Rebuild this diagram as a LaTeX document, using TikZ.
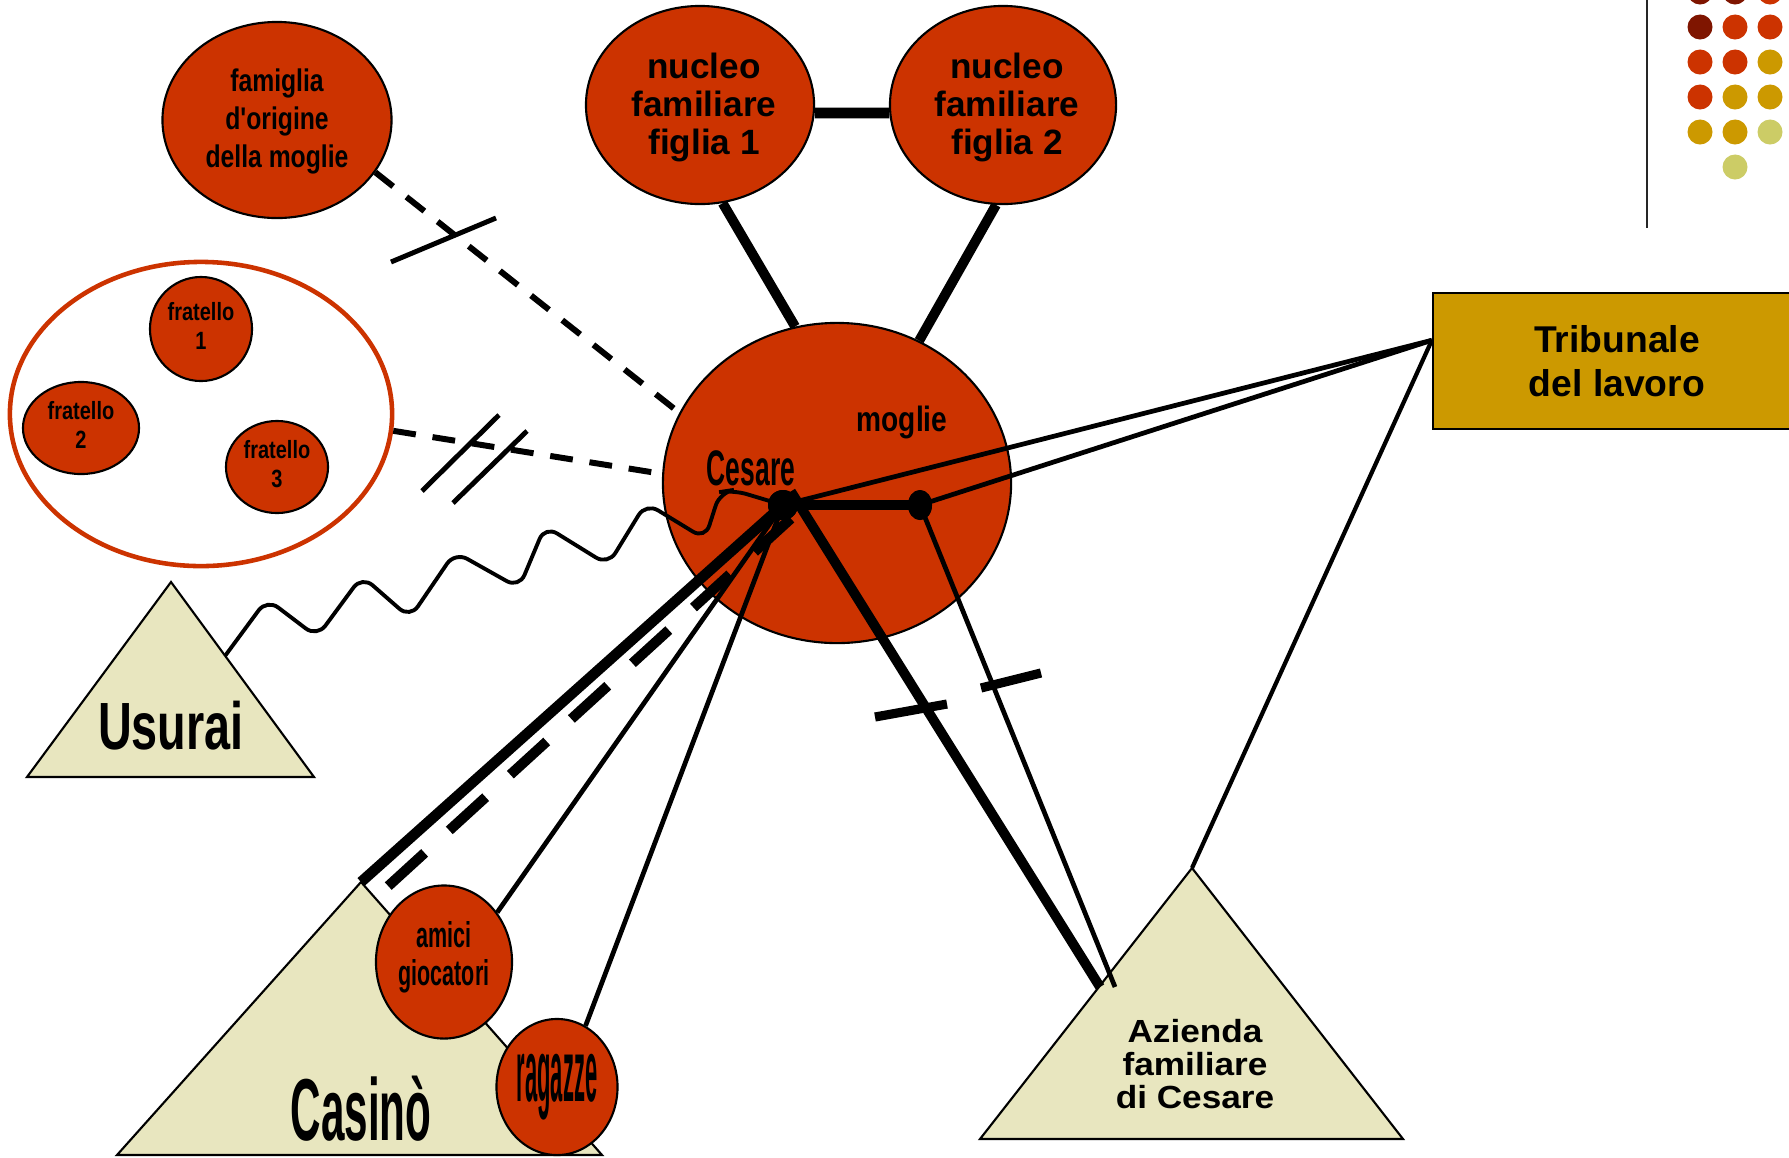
\documentclass[tikz,border=0pt]{standalone}
\usepackage{fontspec}
\setmainfont{Liberation Sans}[Ligatures=TeXOff]
\usepackage{graphicx}
\usetikzlibrary{shapes.geometric,calc}
\definecolor{rust}{HTML}{CC3300}
\definecolor{gold}{HTML}{CC9900}
\definecolor{beige}{HTML}{E8E6BF}
\definecolor{darkrust}{HTML}{7F1500}
\definecolor{pale}{HTML}{CCCC66}
\newcommand{\sqz}[2]{\scalebox{#1}[1]{#2}}
\newcommand{\stk}[1]{\begin{tabular}{@{}c@{}}#1\end{tabular}}
\newcommand{\fsz}[2]{\fontsize{#1}{#2}\selectfont\bfseries}
\begin{document}
\begin{tikzpicture}[x=0.01cm,y=-0.01cm,
 bub/.style={ellipse,draw=black,line width=0.6pt,fill=rust,inner sep=0pt},
 tri/.style={draw=black,line width=0.6pt,fill=beige},
 thinln/.style={line width=1.35pt},
 thickln/.style={line width=3pt},
 famdash/.style={line width=1.7pt,dash pattern=on 6.5pt off 4.8pt},
 bigdash/.style={line width=2.9pt,dash pattern=on 14pt off 9.5pt},
 barmark/.style={line width=1.4pt},
 bigbar/.style={line width=2.6pt},
 txt/.style={inner sep=0pt,align=center}]
\useasboundingbox (0,0) rectangle (1789,1157);
\clip (0,0) rectangle (1789,1157);

% decoration top right
\draw[line width=0.6pt,black!85] (1647,0) -- (1647,228);
\foreach \px/\py/\c in {1700/-8/darkrust,1735/-8/darkrust,1770/-8/rust,
  1700/27/darkrust,1735/27/rust,1770/27/rust,
  1700/62/rust,1735/62/rust,1770/62/gold,
  1700/97/rust,1735/97/gold,1770/97/gold,
  1700/132/gold,1735/132/gold,1770/132/pale,
  1735/167/pale}
  \fill[\c] (\px,\py) circle[radius=0.125cm];

% triangles
\coordinate (usA) at (171,582);
\coordinate (casA) at (361,882);
\coordinate (azA) at (1192,868);
\draw[tri] (usA) -- (27,777) -- (314,777) -- cycle;
\draw[tri] (casA) -- (117,1155) -- (602,1155) -- cycle;
\draw[tri] (azA) -- (980,1139) -- (1403,1139) -- cycle;
\node[txt] (usurai) at (171,726) {\fsz{19}{19}\sqz{0.70}{Usurai}};
\node[txt,anchor=base] (casino) at (361,1140) {\fsz{25}{25}\sqz{0.48}{Casinò}};
\node[txt] (azienda) at (1195,1069) {\fsz{9.1}{9.3}\sqz{1.1}{\stk{Azienda\\familiare\\di Cesare}}};

% tribunale
\node[draw=black,line width=0.6pt,fill=gold,minimum width=3.67cm,minimum height=1.36cm,inner sep=0pt] (trib) at (1616.5,361) {};
\node[txt] (tribtxt) at (1617,366) {\fsz{10.6}{12.5}\stk{Tribunale\\del lavoro}};
\coordinate (tj) at ($(trib.north west)!0.35!(trib.south west)$);

% fratelli group
\node[ellipse,draw=rust,line width=1.3pt,fill=white,minimum width=3.82cm,minimum height=3.04cm,inner sep=0pt] (frat) at (201,414) {};
\node[bub,minimum width=1.02cm,minimum height=1.04cm] (f1) at (201,329) {\fsz{7.1}{8.5}\sqz{0.8}{\stk{fratello\\1}}};
\node[bub,minimum width=1.16cm,minimum height=0.92cm] (f2) at (81,428) {\fsz{7.1}{8.5}\sqz{0.8}{\stk{fratello\\2}}};
\node[bub,minimum width=1.02cm,minimum height=0.92cm] (f3) at (277,467) {\fsz{7.1}{8.5}\sqz{0.8}{\stk{fratello\\3}}};

% bubbles
\node[bub,minimum width=2.29cm,minimum height=1.96cm] (fam) at (277,120) {};
\node[txt] (famtxt) at (277,122) {\fsz{8.9}{10.7}\sqz{0.79}{\stk{famiglia\\d'origine\\della moglie}}};
\node[bub,minimum width=2.28cm,minimum height=1.98cm] (n1) at (700,105) {};
\node[txt] (n1txt) at (704,109) {\fsz{10}{10.8}\stk{nucleo\\familiare\\figlia 1}};
\node[bub,minimum width=2.26cm,minimum height=1.98cm] (n2) at (1003,105) {};
\node[txt] (n2txt) at (1007,109) {\fsz{10}{10.8}\stk{nucleo\\familiare\\figlia 2}};
\node[bub,minimum width=3.48cm,minimum height=3.20cm] (cen) at (837,483) {};
\node[bub,minimum width=1.36cm,minimum height=1.53cm] (ami) at (444,962) {};
\node[txt] (amitxt) at (444,959) {\fsz{10.2}{10.8}\sqz{0.6}{\stk{amici\\giocatori}}};
\node[bub,minimum width=1.21cm,minimum height=1.36cm] (rag) at (557,1087) {\fsz{25}{25}\sqz{0.25}{ragazze}};

% dots
\node[ellipse,fill=black,inner sep=0pt,minimum width=0.30cm,minimum height=0.30cm] (cdot) at (783,505) {};
\node[ellipse,fill=black,inner sep=0pt,minimum width=0.24cm,minimum height=0.30cm] (mdot) at (920,505) {};

% coordinates for free ends
\coordinate (usW) at (225,656);
\coordinate (casD) at (373,900);
\coordinate (az1) at (1100,987);
\coordinate (az2) at (1115,987);

% connectors
\draw[line width=3.1pt] (n1.-4) -- (n2.184);
\draw[line width=2.8pt] (n1.-77) -- (cen.105);
\draw[line width=2.8pt] (n2.-94) -- (cen.60);
\draw[famdash] (fam.-28) -- (cen.156);
\draw[famdash] (frat.-5) -- (cen.177);
\draw[barmark] (391,262) -- (496,218);
\draw[barmark] (422,491) -- (499,415);
\draw[barmark] (453,503) -- (527,431);

\draw[line width=1.1pt,rounded corners=4pt] (usW) -- (267,599) -- (317,637) -- (362,576) -- (410,618)
  -- (455,552) -- (519,588) -- (545,526) -- (608,565) -- (646,503) -- (705,539) -- (720,492) -- (733,490) -- (cdot.center);

\draw[thickln] (cdot.center) -- (casA);
\draw[bigdash] (cdot.-60) -- (casD);
\draw[thinln] (cdot.center) -- (ami.43);
\draw[thinln] (cdot.center) -- (rag.65);
\draw[thinln] (cdot.center) -- (tj);
\draw[thinln] (mdot.center) -- (tj);
\draw[line width=1.2pt] (tj) -- (azA);
\draw[line width=2.8pt] (cdot.60) -- (az1);
\draw[thinln] (mdot.center) -- (az2);
\draw[bigbar] (875,717) -- (947,704);
\draw[bigbar] (981,688) -- (1041,673);
\draw[line width=3.1pt] (cdot.center) -- (mdot.center);
\fill (cdot.center) ellipse[x radius=0.15cm,y radius=0.15cm];
\fill (mdot.center) ellipse[x radius=0.12cm,y radius=0.15cm];

% labels on central circle
\node[txt,anchor=base] (lcesare) at (751,485) {\fsz{14.2}{14.2}\sqz{0.53}{Cesare}};
\node[txt,anchor=base] (lmoglie) at (902,431) {\fsz{10}{10}\sqz{0.8}{moglie}};
\end{tikzpicture}
\end{document}
